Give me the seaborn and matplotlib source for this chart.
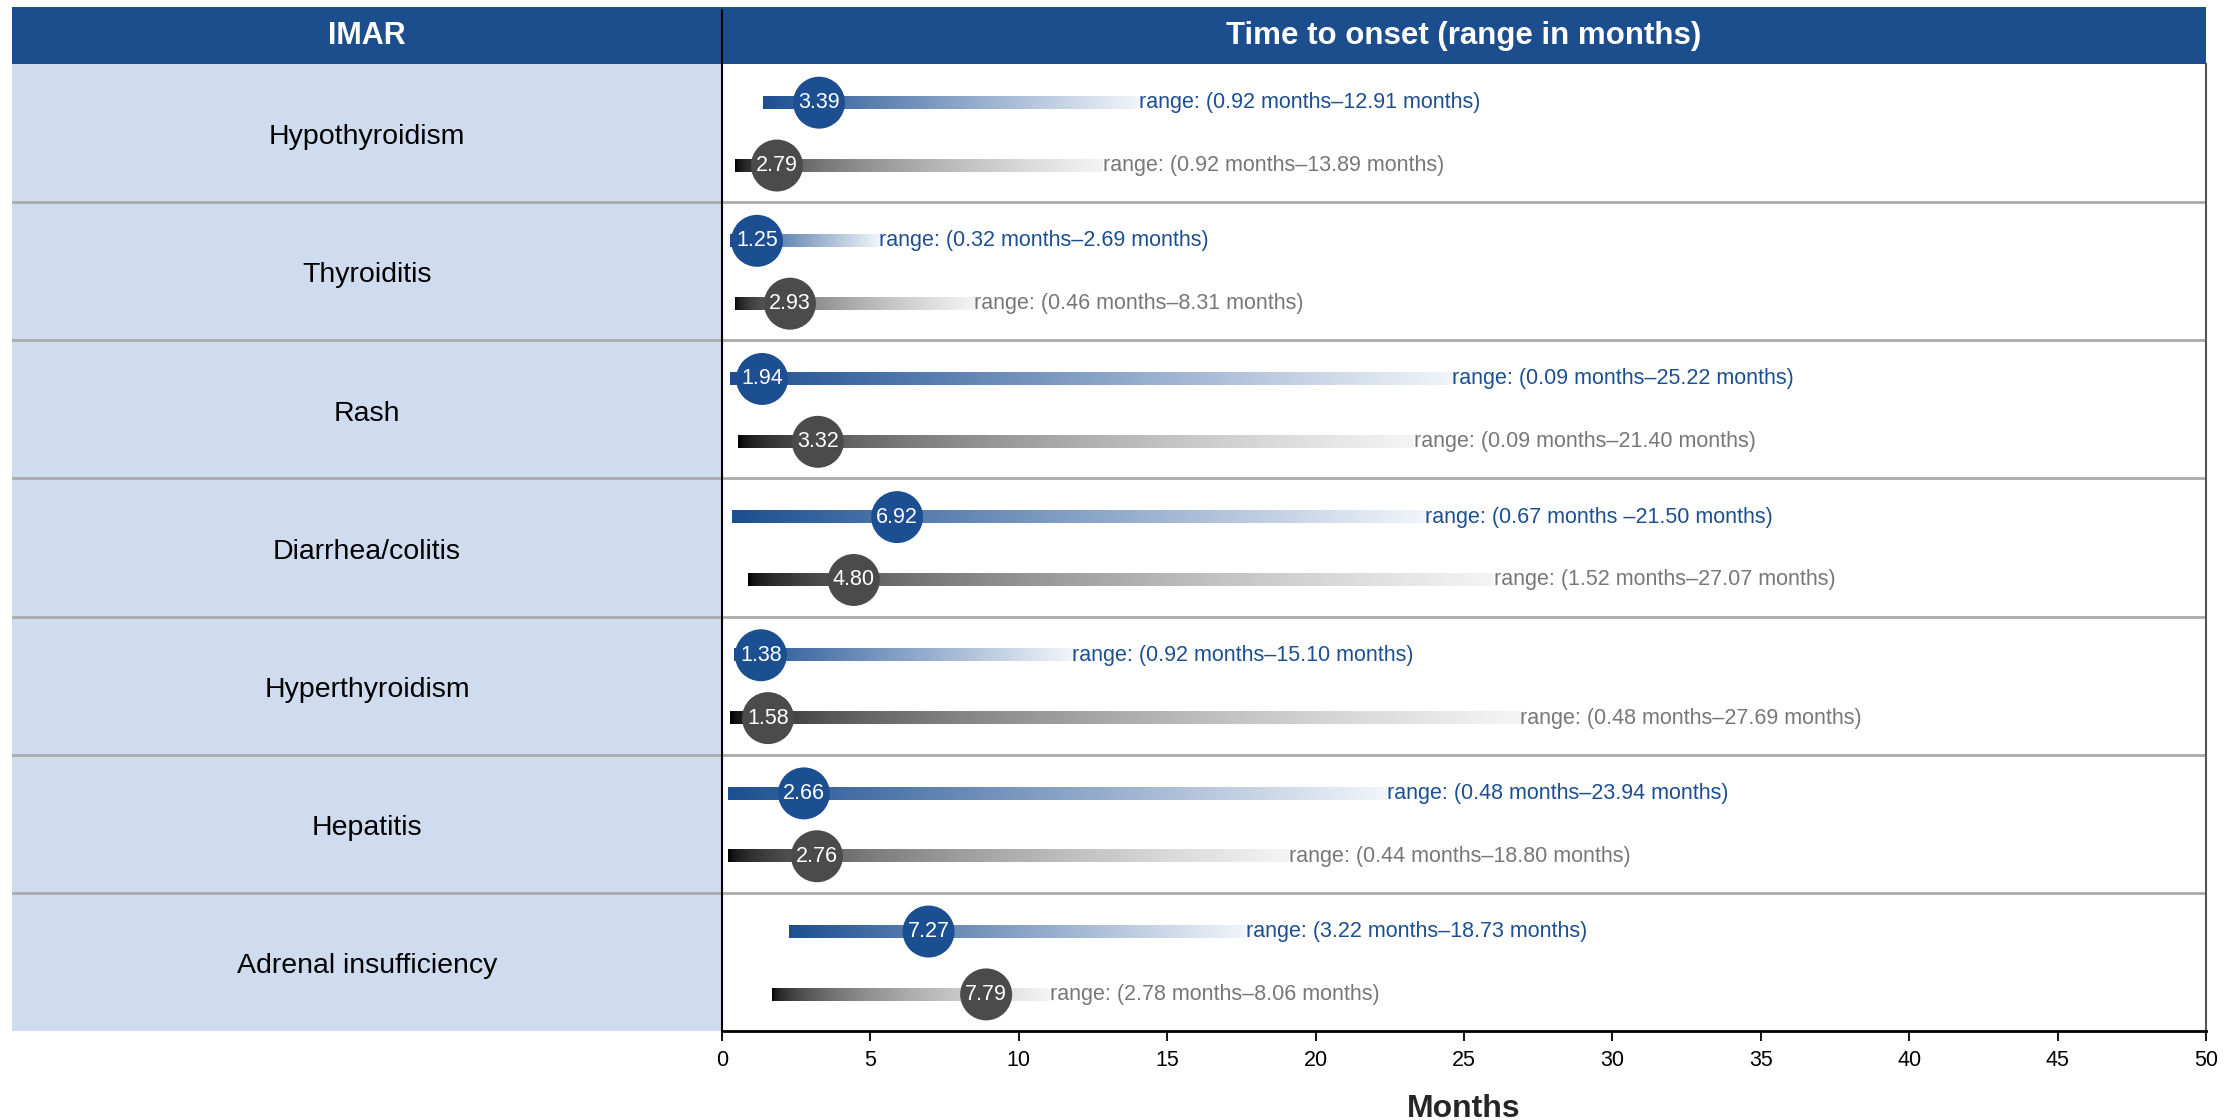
import numpy as np
import pandas as pd
import seaborn as sns
import matplotlib.pyplot as plt
from matplotlib.colors import LinearSegmentedColormap
from matplotlib.lines import Line2D

# IMAR categories (top to bottom)
imar = ["Hypothyroidism", "Thyroiditis", "Rash", "Diarrhea/colitis",
        "Hyperthyroidism", "Hepatitis", "Adrenal insufficiency"]

# blue series: bar start / dot / bar end (months, as drawn) and labels
blue_start = [1.38, 0.27, 0.27, 0.34, 0.40, 0.20, 2.26]
blue_dot = [3.27, 1.18, 1.35, 5.90, 1.31, 2.76, 6.96]
blue_end = [14.05, 5.30, 24.60, 23.70, 11.80, 22.40, 17.64]
blue_median = ["3.39", "1.25", "1.94", "6.92", "1.38", "2.66", "7.27"]
blue_range = ["range: (0.92 months\u201312.91 months)",
              "range: (0.32 months\u20132.69 months)",
              "range: (0.09 months\u201325.22 months)",
              "range: (0.67 months \u201321.50 months)",
              "range: (0.92 months\u201315.10 months)",
              "range: (0.48 months\u201323.94 months)",
              "range: (3.22 months\u201318.73 months)"]

# gray series
gray_start = [0.44, 0.44, 0.54, 0.87, 0.27, 0.20, 1.69]
gray_dot = [1.85, 2.29, 3.23, 4.44, 1.55, 3.20, 8.90]
gray_end = [12.83, 8.50, 23.30, 26.00, 26.90, 19.10, 11.05]
gray_median = ["2.79", "2.93", "3.32", "4.80", "1.58", "2.76", "7.79"]
gray_range = ["range: (0.92 months\u201313.89 months)",
              "range: (0.46 months\u20138.31 months)",
              "range: (0.09 months\u201321.40 months)",
              "range: (1.52 months\u201327.07 months)",
              "range: (0.48 months\u201327.69 months)",
              "range: (0.44 months\u201318.80 months)",
              "range: (2.78 months\u20138.06 months)"]

x_ticks = list(range(0, 51, 5))

BLUE = "#1c4f91"
GRAY_DOT = "#4b4b4b"
HEADER = "#1c4e8e"
PANEL = "#cfdcef"
SEP = "#aaaaaa"

rows = []
for i, name in enumerate(imar):
    rows.append(dict(row=i, grp="blue", ypos=i + 0.28, x_start=blue_start[i], x_dot=blue_dot[i],
                     x_end=blue_end[i], med=blue_median[i], rng=blue_range[i]))
    rows.append(dict(row=i, grp="gray", ypos=i + 0.735, x_start=gray_start[i], x_dot=gray_dot[i],
                     x_end=gray_end[i], med=gray_median[i], rng=gray_range[i]))
df = pd.DataFrame(rows)

sns.set_style("white")
plt.rcParams["font.family"] = ["Liberation Sans", "DejaVu Sans"]

W, H = 2239, 1120
fig = plt.figure(figsize=(W / 100, H / 100), dpi=100)

x0, x1 = 722, 2206
y_top, y_bot = 64, 1031

def fx(px):
    return px / W

def fy(py):
    return 1 - py / H

# header band
hax = fig.add_axes([fx(12), fy(y_top), fx(x1) - fx(12), fy(7) - fy(y_top)])
hax.set_facecolor(HEADER)
hax.set_xticks([]); hax.set_yticks([])
for s in hax.spines.values():
    s.set_visible(False)
fig.text(fx((12 + x0) / 2), fy(36), "IMAR", color="white", fontsize=22,
         fontweight="bold", ha="center", va="center")
fig.text(fx((x0 + x1) / 2), fy(36), "Time to onset (range in months)", color="white",
         fontsize=22.5, fontweight="bold", ha="center", va="center")

# left label panel
lax = fig.add_axes([fx(12), fy(y_bot), fx(x0) - fx(12), fy(y_top) - fy(y_bot)])
lax.set_facecolor(PANEL)
lax.set_xlim(0, 1)
lax.set_ylim(len(imar), 0)
lax.set_xticks([]); lax.set_yticks([])
for s in lax.spines.values():
    s.set_visible(False)
for i, name in enumerate(imar):
    lax.text(0.5, i + 0.53, name, ha="center", va="center", fontsize=20.5, color="black")
for k in range(1, len(imar)):
    lax.axhline(k, color=SEP, lw=2)

# main chart
ax = fig.add_axes([fx(x0), fy(y_bot), fx(x1) - fx(x0), fy(y_top) - fy(y_bot)])
ax.set_facecolor("white")

cmaps = {
    "blue": LinearSegmentedColormap.from_list("b", [BLUE, "#f2f5fa"]),
    "gray": LinearSegmentedColormap.from_list("g", ["#000000", "#f4f4f4"]),
}
lin = np.linspace(0, 1, 256)
grads = {"blue": lin.reshape(1, -1), "gray": np.sqrt(lin).reshape(1, -1)}
bar_h = 0.09
for r in df.itertuples():
    ax.imshow(grads[r.grp], cmap=cmaps[r.grp], aspect="auto", interpolation="bilinear",
              vmin=0, vmax=1,
              extent=[r.x_start, r.x_end, r.ypos + bar_h / 2, r.ypos - bar_h / 2], zorder=2)
    ax.text(r.x_end, r.ypos, r.rng, ha="left", va="center", fontsize=15.5,
            color=BLUE if r.grp == "blue" else "#777777", zorder=4)

sns.scatterplot(data=df, x="x_dot", y="ypos", hue="grp",
                palette={"blue": BLUE, "gray": GRAY_DOT},
                s=1400, edgecolor="none", legend=False, ax=ax, zorder=3)
for r in df.itertuples():
    ax.text(r.x_dot, r.ypos, r.med, ha="center", va="center", color="white",
            fontsize=15.5, zorder=5)

for k in range(1, len(imar)):
    ax.axhline(k, color=SEP, lw=2, zorder=1)

ax.set_xlim(0, 50)
ax.set_ylim(len(imar), 0)
ax.set_xticks(x_ticks)
ax.set_xticklabels([str(t) for t in x_ticks])
ax.set_yticks([])
ax.set_xlabel("")
ax.set_ylabel("")
ax.tick_params(axis="x", direction="out", length=7.5, width=1.3, labelsize=15.5,
               pad=6, colors="black", bottom=True)
ax.spines["top"].set_visible(False)
ax.spines["left"].set_visible(False)
ax.spines["right"].set_color("#555555")
ax.spines["right"].set_linewidth(1.5)
ax.spines["bottom"].set_color("black")
ax.spines["bottom"].set_linewidth(2)

# vertical divider running through the header
fig.add_artist(Line2D([fx(x0), fx(x0)], [fy(10), fy(y_bot)], color="black", lw=1.5, zorder=10))

fig.text(fx((x0 + x1) / 2), fy(1117), "Months", fontsize=23, fontweight="bold",
         ha="center", va="baseline")

fig.savefig("out.png", dpi=100)
